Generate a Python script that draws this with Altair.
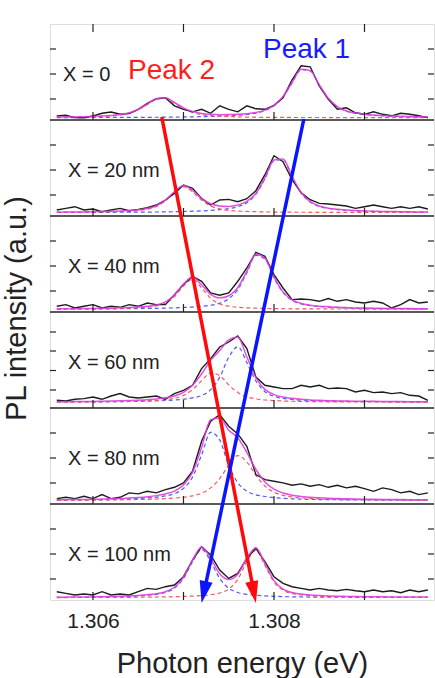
import altair as alt
import pandas as pd

FONT = "Liberation Sans"

# ---- energy grid (eV) shared by all spectra ----
E_START = 1.3056
E_STEP = 0.0001
N_PTS = 42
energy = [round(E_START + E_STEP * k, 5) for k in range(N_PTS)]

panel_labels = ["X = 0", "X = 20 nm", "X = 40 nm", "X = 60 nm", "X = 80 nm", "X = 100 nm"]

# measured PL spectra (a.u., above each panel's fit baseline)
measured_1 = [1.8, 2.5, 0.2, 0, 1.8, 4.5, 5.8, 3.5, 4.2, 8.5, 14.5, 19, 20, 12, 8.5, 6, 8.5, 4.5, 12, 8.5, 6,
              12, 9, 8.5, 12.5, 20, 38, 52, 51, 32, 18.5, 8.5, 10, 5, 3.5, 6, 3.5, 2, 4.5, 3.5, 2, 0.2]
measured_2 = [2.7, 4.3, 6, 2.7, 3.7, 1, 2.7, 4.3, 2, 3.3, 5, 7.7, 12.7, 19.3, 27.7, 24.3, 14.3, 7.7, 12.7, 13.3, 11,
              14, 22, 38, 57, 51, 33, 20, 13, 9.3, 8.7, 7.7, 6.7, 4.3, 6, 7.7, 6, 4.3, 6, 4.3, 6, 3.7]
measured_3 = [3, 4.7, 1.3, 3, 4.7, 1.3, 3, 2, 4.7, 3, 6.3, 4.7, 4.7, 14.7, 24.7, 33, 28, 16.3, 14, 16.3, 28,
              41.3, 57, 53, 34.7, 21.3, 9.7, 10.3, 9.7, 8, 10.7, 8, 9.7, 7.3, 6.3, 8, 6.3, 1.3, 4.7, 9.7, 6.3, 7.3]
measured_4 = [2, 1.3, 3, 3.7, 5.3, 3, 6.3, 8.7, 5.3, 4.3, 5.3, 6.3, 3, 8.7, 12, 17, 33.7, 43.7, 55.3, 60.3, 66.3,
              53.7, 25.3, 17, 15.3, 13.7, 13.7, 17, 15.3, 17, 13.7, 14.3, 13.7, 10.3, 12, 9.7, 10.3, 8.7, 9.7, 7, 6.3, 2]
measured_5 = [2, 3.3, 2, 4.3, 2, 6, 2, 3.3, 7.7, 6.7, 9.3, 7.7, 11, 13.3, 17.7, 29.3, 59.3, 79.3, 86, 74.3, 66.7,
              54.3, 26, 21, 19.3, 17.7, 15.3, 16.7, 14.3, 16, 13.3, 15.3, 12.7, 14.3, 12, 9.3, 12.7, 11, 7.7, 9.3, 6, 7.7]
measured_6 = [6, 4.3, 2.7, 3.7, 2.7, 6, 2.7, 3.7, 2.7, 6, 9.3, 8.3, 11, 12.7, 21, 37.7, 51, 42.7, 27.7, 19.3, 24.3,
              39.3, 49.3, 36, 21, 14.3, 11, 9.3, 7.7, 9.3, 7.7, 7, 8.3, 7, 6, 7.7, 6, 7, 5, 7.7, 6, 7.7]

# fitted component "Peak 1" (blue dashed)
peak1_1 = [0.2, 0.2, 0.2, 0.25, 0.3, 0.3, 0.35, 0.35, 0.4, 0.45, 0.5, 0.55, 0.6, 0.7, 0.85, 1.0, 1.15, 1.35, 1.65, 2.0,
           2.6, 3.4, 4.7, 7.2, 12, 21, 34.8, 48.2, 46.9, 32.6, 19.2, 11, 6.6, 4.5, 3.3, 2.5, 2.0, 1.6, 1.3, 1.1, 0.95, 0.8]
peak1_2 = [0.2, 0.25, 0.25, 0.3, 0.3, 0.35, 0.4, 0.45, 0.5, 0.55, 0.6, 0.7, 0.85, 1.0, 1.2, 1.5, 1.8, 2.3, 3.0, 4.0,
           6.0, 10, 18.5, 34, 52, 53.2, 35.8, 19.6, 10.6, 6.3, 4.2, 3.1, 2.4, 1.85, 1.5, 1.25, 1.0, 0.9, 0.75, 0.65, 0.6, 0.55]
peak1_3 = [0.25, 0.28, 0.3, 0.33, 0.37, 0.4, 0.45, 0.55, 0.6, 0.7, 0.85, 1.0, 1.2, 1.45, 1.8, 2.25, 3.0, 4.0, 6.1, 10.5,
           19.8, 36.5, 53.9, 50.3, 31.5, 16.8, 9, 5.4, 3.75, 2.8, 2.2, 1.7, 1.4, 1.1, 0.95, 0.8, 0.7, 0.65, 0.6, 0.5, 0.45, 0.4]
peak1_4 = [0.3, 0.3, 0.35, 0.4, 0.45, 0.5, 0.55, 0.65, 0.8, 0.95, 1.15, 1.45, 1.8, 2.3, 3.1, 4.4, 6.8, 12.6, 25, 45,
           55.5, 39.8, 21.3, 10.6, 6.0, 3.9, 2.9, 2.2, 1.7, 1.35, 1.1, 0.95, 0.85, 0.75, 0.65, 0.6, 0.55, 0.5, 0.45, 0.4, 0.4, 0.4]
peak1_5 = [0.5, 0.57, 0.64, 0.72, 0.82, 0.95, 1.1, 1.33, 1.6, 2.0, 2.6, 3.4, 4.7, 7.0, 12.2, 23.5, 45.6, 68.3, 60.7, 35,
           17.8, 9.4, 5.8, 4.1, 3.0, 2.3, 1.8, 1.5, 1.2, 1.05, 0.95, 0.85, 0.75, 0.68, 0.62, 0.56, 0.52, 0.48, 0.45, 0.42, 0.4, 0.38]
peak1_6 = [0.35, 0.4, 0.45, 0.5, 0.6, 0.75, 0.9, 1.1, 1.4, 1.8, 2.4, 3.35, 5.2, 9.5, 19.1, 36, 48.5, 36.3, 19.3, 9.5,
           5.2, 3.4, 2.4, 1.85, 1.4, 1.1, 0.9, 0.75, 0.65, 0.58, 0.52, 0.47, 0.43, 0.4, 0.37, 0.34, 0.3, 0.3, 0.3, 0.27, 0.27, 0.27]

# fitted component "Peak 2" (red dashed)
peak2_1 = [0.5, 0.6, 0.7, 0.9, 1.1, 1.4, 1.9, 2.9, 4.7, 8.1, 13.2, 18.6, 19.5, 14.6, 9.1, 5.4, 3.2, 2.1, 1.5, 1.2,
           0.9, 0.7, 0.6, 0.5, 0.45, 0.4, 0.35, 0.3, 0.3, 0.3, 0.25, 0.25, 0.25, 0.25, 0.2, 0.2, 0.2, 0.2, 0.15, 0.15, 0.15, 0.15]
peak2_2 = [0.3, 0.35, 0.45, 0.5, 0.6, 0.75, 0.95, 1.2, 1.6, 2.3, 3.5, 6.3, 11.7, 20.2, 26, 20.9, 12.4, 6.7, 3.8, 2.3,
           1.7, 1.25, 1.0, 0.8, 0.65, 0.55, 0.5, 0.45, 0.4, 0.35, 0.35, 0.3, 0.3, 0.3, 0.25, 0.25, 0.25, 0.25, 0.2, 0.2, 0.2, 0.2]
peak2_3 = [0.25, 0.3, 0.35, 0.4, 0.45, 0.55, 0.7, 0.9, 1.15, 1.55, 2.15, 3.4, 6.2, 12.7, 23.4, 30, 21.3, 11, 5.4, 3.1,
           2.0, 1.5, 1.1, 0.85, 0.7, 0.6, 0.5, 0.45, 0.4, 0.35, 0.35, 0.3, 0.3, 0.3, 0.25, 0.25, 0.25, 0.25, 0.2, 0.2, 0.2, 0.2]
peak2_4 = [0.3, 0.33, 0.36, 0.4, 0.45, 0.54, 0.63, 0.78, 0.93, 1.17, 1.47, 1.9, 2.7, 4.0, 6.9, 12.7, 21.5, 29.4, 26.7, 17.4,
           9.9, 5.5, 3.4, 2.3, 1.7, 1.3, 1.05, 0.84, 0.7, 0.6, 0.52, 0.46, 0.42, 0.38, 0.34, 0.34, 0.3, 0.3, 0.25, 0.25, 0.25, 0.25]
peak2_5 = [0.34, 0.37, 0.4, 0.45, 0.5, 0.6, 0.68, 0.79, 0.9, 1.1, 1.3, 1.58, 1.98, 2.52, 3.33, 4.77, 7.4, 12.7, 22, 35.4,
           45, 38.7, 25.3, 14.6, 8.4, 5.3, 3.6, 2.7, 2.1, 1.7, 1.4, 1.18, 1.03, 0.92, 0.83, 0.74, 0.68, 0.62, 0.56, 0.52, 0.48, 0.45]
peak2_6 = [0.15, 0.17, 0.19, 0.2, 0.22, 0.25, 0.28, 0.32, 0.37, 0.45, 0.57, 0.66, 0.8, 0.95, 1.25, 1.6, 2.15, 3.0, 4.65, 8.7,
           18.3, 36.1, 47.5, 32.2, 15.7, 7.55, 4.3, 2.85, 2.0, 1.5, 1.2, 1.0, 0.85, 0.75, 0.66, 0.6, 0.53, 0.48, 0.44, 0.4, 0.37, 0.34]

# fit background level of each panel
background = [2.2, 3.3, 2.7, 5.7, 3.4, 2.3]

measured = [measured_1, measured_2, measured_3, measured_4, measured_5, measured_6]
peak1 = [peak1_1, peak1_2, peak1_3, peak1_4, peak1_5, peak1_6]
peak2 = [peak2_1, peak2_2, peak2_3, peak2_4, peak2_5, peak2_6]

# axis ticks
x_tick_values = [1.306, 1.307, 1.308, 1.309]
x_label_values = [1.306, 1.308]
y_tick_offsets = [[21, 46, 71], [21, 46, 71], [21, 46, 71], [18, 37.5, 57, 76], [21, 46, 71], [21, 46, 71]]

# annotations
label_e = [1.305669, 1.305724, 1.305724, 1.305724, 1.305724, 1.305724]
label_rise = 45
peak_text = ["Peak 2", "Peak 1"]
peak_text_e = [1.306387, 1.307878]
peak_text_y = [529, 550]
peak_colors = ["#ff1e1e", "#1a1aff"]
arrow_start_e = [1.30676, 1.30833]
arrow_start_y = [483, 481]
arrow_end_e = [1.307776, 1.307229]
arrow_end_y = [8.8, 8.7]
arrow_tip_e = [1.30780, 1.30720]
arrow_tip_y = [-3, -3]
arrow_angle = [349, 12]
arrow_colors = ["#ff0a0a", "#0a14ff"]

X_MIN, X_MAX = 1.305525, 1.309768
PANEL_H = 96
N_PANELS = 6
W, H = 384, PANEL_H * N_PANELS
bases = [(N_PANELS - 1 - i) * PANEL_H for i in range(N_PANELS)]

rows_m, rows_f, rows_1, rows_2 = [], [], [], []
for i in range(N_PANELS):
    b = bases[i] + background[i]
    for k, e in enumerate(energy):
        rows_m.append({"E": e, "y": b + measured[i][k], "panel": i})
        rows_f.append({"E": e, "y": b + peak1[i][k] + peak2[i][k], "panel": i})
        rows_1.append({"E": e, "y": b + peak1[i][k], "panel": i})
        rows_2.append({"E": e, "y": b + peak2[i][k], "panel": i})
df_m, df_f, df_1, df_2 = (pd.DataFrame(r) for r in (rows_m, rows_f, rows_1, rows_2))

xscale = alt.Scale(domain=[X_MIN, X_MAX], nice=False, zero=False)
yscale = alt.Scale(domain=[0, H], nice=False, zero=False)
xaxis = alt.Axis(values=x_label_values, format=".3f", title="Photon energy (eV)", labelFontSize=21,
                 labelPadding=10, ticks=False, domain=False, grid=False, labelColor="#222",
                 labelFont=FONT, titleFont=FONT, titleFontSize=29, titleFontWeight="normal",
                 titleColor="#222", titleY=72, titleBaseline="alphabetic")
yaxis = alt.Axis(title="PL intensity (a.u.)", labels=False, ticks=False, domain=False, grid=False,
                 titleFont=FONT, titleFontSize=29, titleFontWeight="normal", titleColor="#222",
                 titleX=-25, titleY=284, titleBaseline="alphabetic", titleAlign="center", titleAngle=270)


def X(f="E"):
    return alt.X(f"{f}:Q", scale=xscale, axis=xaxis)


def Y(f="y"):
    return alt.Y(f"{f}:Q", scale=yscale, axis=yaxis)


comp1 = alt.Chart(df_1).mark_line(interpolate="monotone", strokeDash=[4, 3], strokeWidth=1.2,
                                  color="#4d5cf5").encode(x=X(), y=Y(), detail="panel:N")
comp2 = alt.Chart(df_2).mark_line(interpolate="monotone", strokeDash=[4, 3], strokeWidth=1.2,
                                  color="#f25a5a").encode(x=X(), y=Y(), detail="panel:N")
meas = alt.Chart(df_m).mark_line(strokeWidth=1.4, color="#1c1c1c").encode(x=X(), y=Y(), detail="panel:N")
fit = alt.Chart(df_f).mark_line(interpolate="monotone", strokeWidth=1.5, color="#e03ce0",
                                opacity=0.9).encode(x=X(), y=Y(), detail="panel:N")

# panel separators
sep_df = pd.DataFrame({"y": [PANEL_H * j for j in range(1, N_PANELS)]})
seps = alt.Chart(sep_df).mark_rule(color="#222", strokeWidth=1.5).encode(
    y=Y(), x=alt.value(0), x2=alt.value(W))

# x ticks (inward) on every panel bottom and the top frame
xt_rows = []
for yb in bases:
    for t in x_tick_values:
        xt_rows.append({"E": t, "y": yb, "y2": yb + 8})
for t in x_tick_values:
    xt_rows.append({"E": t, "y": H, "y2": H - 8})
xticks = alt.Chart(pd.DataFrame(xt_rows)).mark_rule(color="#222", strokeWidth=1.2).encode(
    x=X(), y=Y(), y2="y2:Q")

# y ticks (inward) left and right
yt_rows = []
for i in range(N_PANELS):
    for t in y_tick_offsets[i]:
        yt_rows.append({"y": bases[i] + t})
yt_df = pd.DataFrame(yt_rows)
yticks_l = alt.Chart(yt_df).mark_rule(color="#222", strokeWidth=1.2).encode(
    y=Y(), x=alt.value(0), x2=alt.value(6))
yticks_r = alt.Chart(yt_df).mark_rule(color="#222", strokeWidth=1.2).encode(
    y=Y(), x=alt.value(W), x2=alt.value(W - 6))

# arrows
arr_df = pd.DataFrame({"E": arrow_start_e, "y": arrow_start_y, "E2": arrow_end_e, "y2": arrow_end_y,
                       "col": arrow_colors})
arrows = alt.Chart(arr_df).mark_rule(strokeWidth=3.5).encode(
    x=X(), y=Y(), x2="E2:Q", y2="y2:Q", color=alt.Color("col:N", scale=None))
head_df = pd.DataFrame({"E": arrow_tip_e, "y": arrow_tip_y, "ang": arrow_angle, "col": arrow_colors})
heads = alt.Chart(head_df).mark_point(shape="M0,0L-0.6,-2L0.6,-2Z", filled=True, size=484,
                                      opacity=1, strokeWidth=0).encode(
    x=X(), y=Y(), angle=alt.Angle("ang:Q", scale=None), color=alt.Color("col:N", scale=None))

# panel labels
lab_df = pd.DataFrame({"E": label_e, "y": [bases[i] + label_rise for i in range(N_PANELS)],
                       "t": panel_labels})
labs = alt.Chart(lab_df).mark_text(align="left", baseline="middle", font=FONT, fontSize=20,
                                   color="#222").encode(x=X(), y=Y(), text="t:N")

pk_df = pd.DataFrame({"E": peak_text_e, "y": peak_text_y, "t": peak_text, "col": peak_colors})
pks = alt.Chart(pk_df).mark_text(align="left", baseline="middle", font=FONT, fontSize=28).encode(
    x=X(), y=Y(), text="t:N", color=alt.Color("col:N", scale=None))

chart = alt.layer(comp1, comp2, meas, fit, seps, xticks, yticks_l, yticks_r, arrows, heads, labs, pks).properties(
    width=W, height=H, autosize=alt.AutoSizeParams(type="none"),
    padding={"left": 50, "top": 24, "right": 1, "bottom": 78},
).configure_view(stroke="#222", strokeWidth=1.5).configure(font=FONT)

chart.save("out.html", embed_options={"renderer": "svg", "actions": False})
